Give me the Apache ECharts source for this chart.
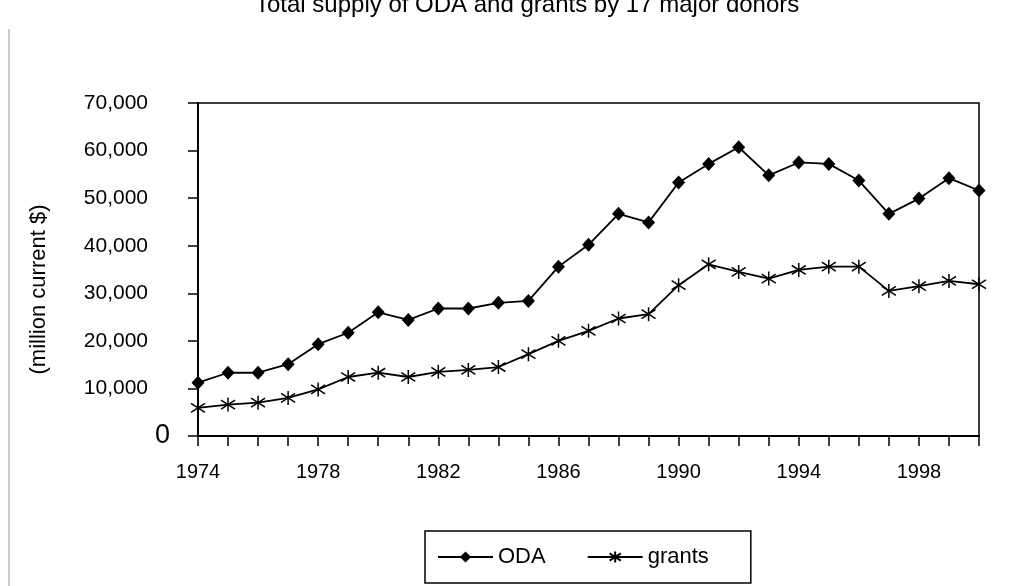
<!DOCTYPE html>
<html>
<head>
<meta charset="utf-8">
<script src="https://cdn.jsdelivr.net/npm/echarts@6/dist/echarts.min.js"></script>
<style>html,body{margin:0;padding:0;background:#fff}#c{width:1026px;height:586px}</style>
</head>
<body>
<div id="c"></div>
<script>
const years = ['1974','1975','1976','1977','1978','1979','1980','1981','1982','1983','1984','1985','1986','1987','1988','1989','1990','1991','1992','1993','1994','1995','1996','1997','1998','1999','2000'];
const oda = [11200,13300,13300,15100,19300,21700,26000,24400,26800,26800,28000,28400,35600,40200,46700,44900,53300,57200,60700,54800,57500,57200,53700,46700,49900,54200,51600];
const grants = [5900,6600,7000,8000,9800,12400,13300,12400,13500,13900,14500,17200,20000,22100,24700,25600,31700,36100,34500,33100,34900,35600,35600,30500,31500,32600,31900];
const yTicks = [0,10000,20000,30000,40000,50000,60000,70000];

const starPath = 'path://M5,0L5,10M0,1.8L10,8.2M0,8.2L10,1.8';
const font = 'Liberation Sans, Arial, sans-serif';
const chart = echarts.init(document.getElementById('c'));
chart.setOption({
  animation: false,
  backgroundColor: '#fff',
  title: {
    text: 'Total supply of ODA and grants by 17 major donors',
    left: 255, top: -7, padding: 0,
    textStyle: {fontFamily: font, fontSize: 24, fontWeight: 'normal', color: '#000'}
  },
  graphic: [{type: 'line', shape: {x1: 9, y1: 29, x2: 9, y2: 586}, style: {stroke: '#b8b8b8', lineWidth: 1.5}}],
  grid: {left: 198, right: 47, top: 103, bottom: 150, show: true, borderColor: '#000', borderWidth: 1.5},
  legend: {
    left: 425, top: 531,
    data: ['ODA', 'grants'],
    itemWidth: 55, itemHeight: 14, itemGap: 41,
    padding: [15, 42, 15, 12],
    borderColor: '#000', borderWidth: 1.5,
    textStyle: {fontFamily: font, fontSize: 22, color: '#000'}
  },
  xAxis: {
    type: 'category', data: years, boundaryGap: false,
    axisLine: {lineStyle: {color: '#000', width: 2}},
    axisTick: {show: true, length: 10, interval: 0, lineStyle: {color: '#000', width: 1.5}},
    axisLabel: {interval: 3, margin: 26, fontFamily: font, fontSize: 20, color: '#000'},
    splitLine: {show: false}
  },
  yAxis: {
    type: 'value', min: 0, max: 70000, interval: 10000,
    name: '(million current $)', nameLocation: 'middle', nameGap: 148, nameRotate: 90,
    nameTextStyle: {fontFamily: font, fontSize: 22, color: '#000', padding: [0, 40, 0, 0]},
    axisLine: {show: true, lineStyle: {color: '#000', width: 2}},
    axisTick: {show: true, length: 10, lineStyle: {color: '#000', width: 1.5}},
    splitLine: {show: false},
    axisLabel: {
      margin: 28, fontFamily: font, color: '#000',
      formatter: function (v) {
        if (v === 0) return '{z|0}';
        return '{n|' + v.toLocaleString('en-US') + '}';
      },
      rich: {
        z: {fontFamily: font, fontSize: 27, color: '#000'},
        n: {fontFamily: font, fontSize: 21, color: '#000', padding: [0, 22, 0, 0]}
      }
    }
  },
  series: [
    {name: 'ODA', type: 'line', data: oda, symbol: 'diamond', symbolSize: [13, 14],
      lineStyle: {color: '#000', width: 1.8}, itemStyle: {color: '#000'}},
    {name: 'grants', type: 'line', data: grants, symbol: starPath, symbolSize: 14,
      lineStyle: {color: '#000', width: 1.8}, itemStyle: {color: '#000', borderColor: '#000', borderWidth: 1.5}}
  ]
});
</script>
</body>
</html>
